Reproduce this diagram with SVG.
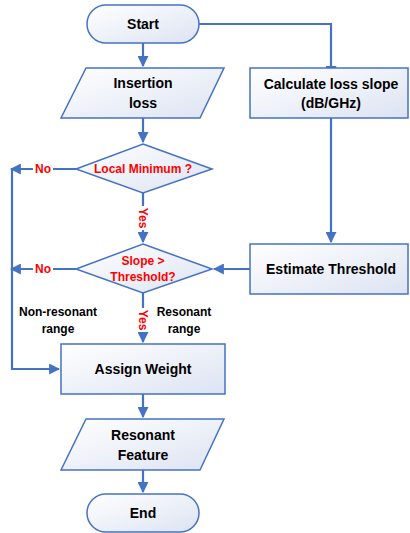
<svg xmlns="http://www.w3.org/2000/svg" width="410" height="533" viewBox="0 0 410 533">
<defs>
<linearGradient id="g" x1="0" y1="0" x2="1" y2="1">
<stop offset="0" stop-color="#ffffff"/>
<stop offset="1" stop-color="#dce3f2"/>
</linearGradient>
<marker id="ah" viewBox="0 0 10 10" refX="9" refY="5" markerWidth="5" markerHeight="5" markerUnits="strokeWidth" orient="auto">
<path d="M0,0 L10,5 L0,10 z" fill="#4472C4"/>
</marker>
<style>
.s{fill:url(#g);stroke:#4472C4;stroke-width:1.5}
.t{font-family:"Liberation Sans",Arial,sans-serif;font-weight:bold;font-size:14px;fill:#000;text-anchor:middle;dominant-baseline:central}
.r{font-family:"Liberation Sans",Arial,sans-serif;font-weight:bold;font-size:12px;fill:#FF0000;text-anchor:middle;dominant-baseline:central}
.l{font-family:"Liberation Sans",Arial,sans-serif;font-weight:bold;font-size:12px;fill:#000;text-anchor:middle;dominant-baseline:central}
.c{fill:none;stroke:#4472C4;stroke-width:2.2}
</style>
</defs>
<rect width="410" height="533" fill="#fff"/>
<g id="connectors">
<path class="c" d="M143,43 V66" marker-end="url(#ah)"/>
<path class="c" d="M199,24 H331 V76" marker-end="url(#ah)"/>
<path class="c" d="M143,118 V142" marker-end="url(#ah)"/>
<path class="c" d="M331,118 V242" marker-end="url(#ah)"/>
<path class="c" d="M143,193 V242" marker-end="url(#ah)"/>
<path class="c" d="M250,269 H214" marker-end="url(#ah)"/>
<path class="c" d="M76,169 H11" marker-end="url(#ah)"/>
<path class="c" d="M76,269 H11" marker-end="url(#ah)"/>
<path class="c" d="M12,169 V369 H59" marker-end="url(#ah)"/>
<path class="c" d="M143,293 V342" marker-end="url(#ah)"/>
<path class="c" d="M143,394 V417" marker-end="url(#ah)"/>
<path class="c" d="M143,470 V492" marker-end="url(#ah)"/>
<rect x="33" y="161" width="20" height="16" fill="#fff"/>
<text class="r" x="43" y="169">No</text>
<rect x="33" y="261" width="20" height="16" fill="#fff"/>
<text class="r" x="43" y="269">No</text>
<rect x="136" y="206" width="14" height="24" fill="#fff"/>
<text class="r" transform="translate(143,218) rotate(90)">Yes</text>
<rect x="136" y="308" width="14" height="24" fill="#fff"/>
<text class="r" transform="translate(143,320) rotate(90)">Yes</text>
<text class="l" x="58" y="312">Non-resonant</text>
<text class="l" x="58" y="329">range</text>
<text class="l" x="184" y="312">Resonant</text>
<text class="l" x="184" y="329">range</text>
</g>
<g id="start">
<rect class="s" x="87" y="5" width="112" height="38" rx="19"/>
<text class="t" x="143" y="24">Start</text>
</g>
<g id="insertion">
<path class="s" d="M86,68 H224 L200,118 H61 Z"/>
<text class="t" x="143" y="83">Insertion</text>
<text class="t" x="143" y="103">loss</text>
</g>
<g id="calc">
<rect class="s" x="250" y="68" width="158" height="50"/>
<text class="t" x="331" y="84">Calculate loss slope</text>
<text class="t" x="331" y="103">(dB/GHz)</text>
</g>
<g id="localmin">
<path class="s" d="M143,144 L212,169 L143,193 L76,169 Z"/>
<text class="r" x="143" y="169">Local Minimum ?</text>
</g>
<g id="slope">
<path class="s" d="M143,244 L212,269 L143,293 L76,269 Z"/>
<text class="r" x="143" y="261">Slope &gt;</text>
<text class="r" x="143" y="277">Threshold?</text>
</g>
<g id="estimate">
<rect class="s" x="250" y="244" width="158" height="50"/>
<text class="t" x="331" y="269">Estimate Threshold</text>
</g>
<g id="assign">
<rect class="s" x="61" y="344" width="164" height="50"/>
<text class="t" x="143" y="369">Assign Weight</text>
</g>
<g id="feature">
<path class="s" d="M86,419 H224 L200,470 H61 Z"/>
<text class="t" x="143" y="435">Resonant</text>
<text class="t" x="143" y="455">Feature</text>
</g>
<g id="end">
<rect class="s" x="87" y="494" width="112" height="38" rx="19"/>
<text class="t" x="143" y="513">End</text>
</g>
</svg>
